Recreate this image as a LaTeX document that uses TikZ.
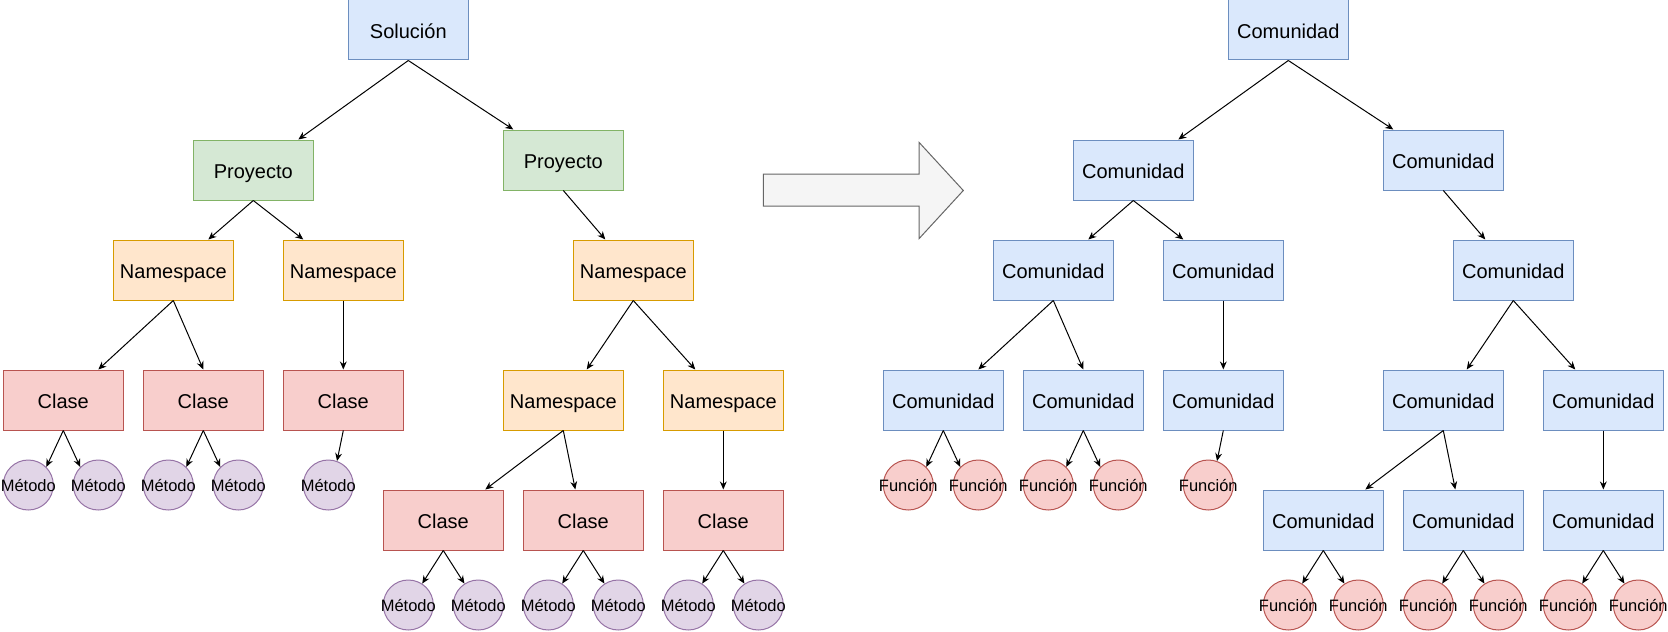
\documentclass[tikz,border=0pt]{standalone}
\usepackage{fontspec}
\setmainfont{Liberation Sans}
\usepackage{tikz}
\usetikzlibrary{arrows.meta}
\definecolor{blueFill}{HTML}{DAE8FC}
\definecolor{blueLine}{HTML}{6C8EBF}
\definecolor{greenFill}{HTML}{D5E8D4}
\definecolor{greenLine}{HTML}{82B366}
\definecolor{orangeFill}{HTML}{FFE6CC}
\definecolor{orangeLine}{HTML}{D79B00}
\definecolor{redFill}{HTML}{F8CECC}
\definecolor{redLine}{HTML}{B85450}
\definecolor{purpleFill}{HTML}{E1D5E7}
\definecolor{purpleLine}{HTML}{9673A6}
\definecolor{arrowFill}{HTML}{F5F5F5}
\definecolor{arrowLine}{HTML}{666666}

\begin{document}
\begin{tikzpicture}[
  x=0.5pt, y=-0.5pt,
  mybox/.style={draw, line width=0.5pt, minimum width=60pt, minimum height=30pt, inner sep=0pt, text height=9.4pt, text depth=0.5pt, font=\fontsize{10}{12}\selectfont},
  myleaf/.style={draw, circle, line width=0.5pt, minimum size=25pt, inner sep=0pt, font=\fontsize{8.25}{10}\selectfont},
  solbox/.style={mybox, draw=blueLine, fill=blueFill},
  projbox/.style={mybox, draw=greenLine, fill=greenFill},
  nsbox/.style={mybox, draw=orangeLine, fill=orangeFill},
  clasebox/.style={mybox, draw=redLine, fill=redFill},
  combox/.style={mybox, draw=blueLine, fill=blueFill},
  metleaf/.style={myleaf, draw=purpleLine, fill=purpleFill},
  funleaf/.style={myleaf, draw=redLine, fill=redFill},
  edge/.style={-{Stealth[length=4pt,width=3.4pt]}, line width=0.5pt},
]
\useasboundingbox (0,0) rectangle (1668,631);
% left tree
\node[solbox] (sol) at (408.3,30) {Solución};
\node[projbox] (pL) at (253.3,170) {Proyecto};
\node[projbox] (pR) at (563.3,160) {Proyecto};
\node[nsbox] (nL1) at (173.3,270) {Namespace};
\node[nsbox] (nL2) at (343.3,270) {Namespace};
\node[nsbox] (nR) at (633.3,270) {Namespace};
\node[clasebox] (c1) at (63.3,400) {Clase};
\node[clasebox] (c2) at (203.3,400) {Clase};
\node[clasebox] (c3) at (343.3,400) {Clase};
\node[nsbox] (n2a) at (563.3,400) {Namespace};
\node[nsbox] (n2b) at (723.3,400) {Namespace};
\node[clasebox] (c4) at (443.3,520) {Clase};
\node[clasebox] (c5) at (583.3,520) {Clase};
\node[clasebox] (c6) at (723.3,520) {Clase};
\foreach \x [count=\i] in {28.3,98.3,168.3,238.3,328.3}
  \node[metleaf] (m\i) at (\x,485) {\makebox[0pt]{Método}};
\foreach \x [count=\i from 6] in {408.3,478.3,548.3,618.3,688.3,758.3}
  \node[metleaf] (m\i) at (\x,605) {\makebox[0pt]{Método}};
\draw[edge] (sol.south) -- ([xshift=22.5pt]pL.north);
\draw[edge] (sol.south) -- ([xshift=-25pt]pR.north);
\draw[edge] (pL.south) -- ([xshift=17.5pt]nL1.north);
\draw[edge] (pL.south) -- ([xshift=-20pt]nL2.north);
\draw[edge] (pR.south) -- ([xshift=-14pt]nR.north);
\draw[edge] (nL1.south) -- ([xshift=17.5pt]c1.north);
\draw[edge] (nL1.south) -- (c2.north);
\draw[edge] (nL2.south) -- (c3.north);
\draw[edge] (nR.south) -- ([xshift=11.7pt]n2a.north);
\draw[edge] (nR.south) -- ([xshift=-14pt]n2b.north);
\draw[edge] (n2a.south) -- ([xshift=21pt]c4.north);
\draw[edge] (n2a.south) -- ([xshift=-4pt]c5.north);
\draw[edge] (n2b.south) -- (c6.north);
\draw[edge] (c1.south) -- (m1.45);
\draw[edge] (c1.south) -- (m2.135);
\draw[edge] (c2.south) -- (m3.45);
\draw[edge] (c2.south) -- (m4.135);
\draw[edge] (c3.south) -- (m5.70);
\draw[edge] (c4.south) -- (m6.57);
\draw[edge] (c4.south) -- (m7.123);
\draw[edge] (c5.south) -- (m8.57);
\draw[edge] (c5.south) -- (m9.123);
\draw[edge] (c6.south) -- (m10.57);
\draw[edge] (c6.south) -- (m11.123);
% big arrow
\draw[draw=arrowLine, fill=arrowFill, line width=0.5pt]
  (763.3,174) -- (919,174) -- (919,142.3) -- (963.3,190.5) -- (919,238.7) -- (919,206) -- (763.3,206) -- cycle;
% right tree
\node[combox] (rtop) at (1288.3,30) {Comunidad};
\node[combox] (rL) at (1133.3,170) {Comunidad};
\node[combox] (rR) at (1443.3,160) {Comunidad};
\node[combox] (r3a) at (1053.3,270) {Comunidad};
\node[combox] (r3b) at (1223.3,270) {Comunidad};
\node[combox] (r3c) at (1513.3,270) {Comunidad};
\node[combox] (r4a) at (943.3,400) {Comunidad};
\node[combox] (r4b) at (1083.3,400) {Comunidad};
\node[combox] (r4c) at (1223.3,400) {Comunidad};
\node[combox] (r4d) at (1443.3,400) {Comunidad};
\node[combox] (r4e) at (1603.3,400) {Comunidad};
\node[combox] (r5a) at (1323.3,520) {Comunidad};
\node[combox] (r5b) at (1463.3,520) {Comunidad};
\node[combox] (r5c) at (1603.3,520) {Comunidad};
\foreach \x [count=\i] in {908.3,978.3,1048.3,1118.3,1208.3}
  \node[funleaf] (f\i) at (\x,485) {\makebox[0pt]{Función}};
\foreach \x [count=\i from 6] in {1288.3,1358.3,1428.3,1498.3,1568.3,1638.3}
  \node[funleaf] (f\i) at (\x,605) {\makebox[0pt]{Función}};
\draw[edge] (rtop.south) -- ([xshift=22.5pt]rL.north);
\draw[edge] (rtop.south) -- ([xshift=-25pt]rR.north);
\draw[edge] (rL.south) -- ([xshift=17.5pt]r3a.north);
\draw[edge] (rL.south) -- ([xshift=-20pt]r3b.north);
\draw[edge] (rR.south) -- ([xshift=-14pt]r3c.north);
\draw[edge] (r3a.south) -- ([xshift=17.5pt]r4a.north);
\draw[edge] (r3a.south) -- (r4b.north);
\draw[edge] (r3b.south) -- (r4c.north);
\draw[edge] (r3c.south) -- ([xshift=11.7pt]r4d.north);
\draw[edge] (r3c.south) -- ([xshift=-14pt]r4e.north);
\draw[edge] (r4d.south) -- ([xshift=21pt]r5a.north);
\draw[edge] (r4d.south) -- ([xshift=-4pt]r5b.north);
\draw[edge] (r4e.south) -- (r5c.north);
\draw[edge] (r4a.south) -- (f1.45);
\draw[edge] (r4a.south) -- (f2.135);
\draw[edge] (r4b.south) -- (f3.45);
\draw[edge] (r4b.south) -- (f4.135);
\draw[edge] (r4c.south) -- (f5.70);
\draw[edge] (r5a.south) -- (f6.57);
\draw[edge] (r5a.south) -- (f7.123);
\draw[edge] (r5b.south) -- (f8.57);
\draw[edge] (r5b.south) -- (f9.123);
\draw[edge] (r5c.south) -- (f10.57);
\draw[edge] (r5c.south) -- (f11.123);
\end{tikzpicture}
\end{document}
